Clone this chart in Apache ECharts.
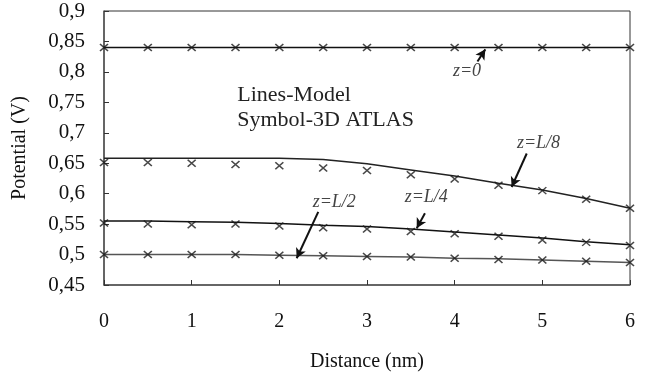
<!DOCTYPE html>
<html>
<head>
<meta charset="utf-8">
<script src="https://cdn.jsdelivr.net/npm/echarts@6/dist/echarts.min.js"></script>
<style>html,body{margin:0;padding:0;background:#fff}#c{width:660px;height:375px}</style>
</head>
<body>
<div id="c"></div>
<script>
const distance = [0, 0.5, 1, 1.5, 2, 2.5, 3, 3.5, 4, 4.5, 5, 5.5, 6];
// Lines - model
const modelZ0   = [0.840, 0.840, 0.840, 0.840, 0.840, 0.840, 0.840, 0.840, 0.840, 0.840, 0.840, 0.840, 0.840];
const modelZL8  = [0.658, 0.658, 0.658, 0.658, 0.658, 0.656, 0.649, 0.639, 0.629, 0.617, 0.606, 0.592, 0.576];
const modelZL4  = [0.555, 0.555, 0.554, 0.553, 0.551, 0.548, 0.546, 0.542, 0.537, 0.532, 0.527, 0.521, 0.516];
const modelZL2  = [0.500, 0.500, 0.500, 0.500, 0.499, 0.498, 0.497, 0.496, 0.494, 0.493, 0.491, 0.489, 0.487];
// Symbols - 3D ATLAS
const atlasZ0   = [0.840, 0.840, 0.840, 0.840, 0.840, 0.840, 0.840, 0.840, 0.840, 0.840, 0.840, 0.840, 0.840];
const atlasZL8  = [0.651, 0.651, 0.650, 0.648, 0.646, 0.642, 0.638, 0.631, 0.624, 0.614, 0.605, 0.591, 0.576];
const atlasZL4  = [0.552, 0.550, 0.549, 0.550, 0.547, 0.544, 0.542, 0.538, 0.534, 0.530, 0.524, 0.520, 0.515];
const atlasZL2  = [0.500, 0.500, 0.500, 0.500, 0.499, 0.498, 0.497, 0.496, 0.494, 0.492, 0.491, 0.489, 0.487];

const xTicks = [0, 1, 2, 3, 4, 5, 6];
const yTicks = ['0,45','0,5','0,55','0,6','0,65','0,7','0,75','0,8','0,85','0,9'];

// annotation labels and arrows (data coordinates)
const annLabels = ['z=0', 'z=L/8', 'z=L/4', 'z=L/2'];
const annTextPos = [[3.98, 0.801], [4.71, 0.683], [3.43, 0.5945], [2.38, 0.5865]];
const annArrowFrom = [[4.26, 0.817], [4.822, 0.666], [3.661, 0.568], [2.444, 0.570]];
const annArrowTo   = [[4.35, 0.837], [4.650, 0.611], [3.567, 0.543], [2.198, 0.494]];
const legendLines = ['Lines-Model', 'Symbol-3D ATLAS'];
const legendPos = [[1.52, 0.762], [1.52, 0.721]];

const pair = (xs, ys) => xs.map((x, i) => [x, ys[i]]);
const FONT = '"Liberation Serif", "Times New Roman", serif';
const crossSym = 'path://M0,0L10,10M10,0L0,10';

function lineSeries(name, data, color) {
  return { name, type: 'line', data: pair(distance, data), showSymbol: false, symbol: 'none',
    lineStyle: { color, width: 1.5 }, z: 2, animation: false };
}
function symSeries(name, data) {
  return { name, type: 'scatter', data: pair(distance, data), symbol: crossSym, symbolSize: [8, 7],
    itemStyle: { color: 'rgba(0,0,0,0)', borderColor: '#1a1a1a', borderWidth: 1.5 }, z: 3, animation: false };
}

const arrowSeries = {
  type: 'line', data: [], animation: false,
  markLine: {
    silent: true, symbol: ['none', 'arrow'], symbolSize: [8, 10],
    lineStyle: { color: '#111', width: 2, type: 'solid' }, label: { show: false },
    data: annArrowFrom.map((f, i) => [{ coord: f }, { coord: annArrowTo[i] }])
  },
  markPoint: {
    silent: true, symbol: 'circle', symbolSize: 0,
    label: { show: true, position: 'inside', fontFamily: FONT, fontStyle: 'italic', fontSize: 18, color: '#444',
      formatter: p => p.name, align: 'left' },
    data: annLabels.map((t, i) => ({ name: t, coord: annTextPos[i] }))
      .concat(legendLines.map((t, i) => ({ name: t, coord: legendPos[i],
        label: { fontStyle: 'normal', fontSize: 22, color: '#222' } })))
  }
};

const chart = echarts.init(document.getElementById('c'), null, { renderer: 'canvas' });
chart.setOption({
  animation: false,
  backgroundColor: '#fff',
  grid: { left: 104, right: 30, top: 11, bottom: 90, show: true, borderColor: '#333', borderWidth: 1,
    containLabel: false, outerBoundsMode: 'none' },
  xAxis: {
    type: 'value', min: 0, max: 6, interval: 1,
    name: 'Distance (nm)', nameLocation: 'middle', nameGap: 67,
    nameTextStyle: { fontFamily: FONT, fontSize: 20, color: '#111' },
    axisLine: { lineStyle: { color: '#555', width: 1.5 } },
    axisTick: { inside: true, length: 5, lineStyle: { color: '#333' } },
    axisLabel: { margin: 27, fontFamily: FONT, fontSize: 20, color: '#111',
      formatter: v => String(xTicks[Math.round(v)]) },
    splitLine: { show: false }
  },
  yAxis: {
    type: 'value', min: 0.45, max: 0.9, interval: 0.05,
    name: 'Potential (V)', nameLocation: 'middle', nameGap: 74,
    nameTextStyle: { fontFamily: FONT, fontSize: 20, color: '#111' },
    axisLine: { lineStyle: { color: '#555', width: 1.5 } },
    axisTick: { inside: true, length: 5, lineStyle: { color: '#333' } },
    axisLabel: { margin: 19, fontFamily: FONT, fontSize: 21, color: '#111',
      formatter: v => yTicks[Math.round((v - 0.45) / 0.05)] },
    splitLine: { show: false }
  },
  series: [
    lineSeries('z=0 model', modelZ0, '#111'),
    lineSeries('z=L/8 model', modelZL8, '#222'),
    lineSeries('z=L/4 model', modelZL4, '#111'),
    lineSeries('z=L/2 model', modelZL2, '#555'),
    symSeries('z=0 ATLAS', atlasZ0),
    symSeries('z=L/8 ATLAS', atlasZL8),
    symSeries('z=L/4 ATLAS', atlasZL4),
    symSeries('z=L/2 ATLAS', atlasZL2),
    arrowSeries
  ]
});
</script>
</body>
</html>
